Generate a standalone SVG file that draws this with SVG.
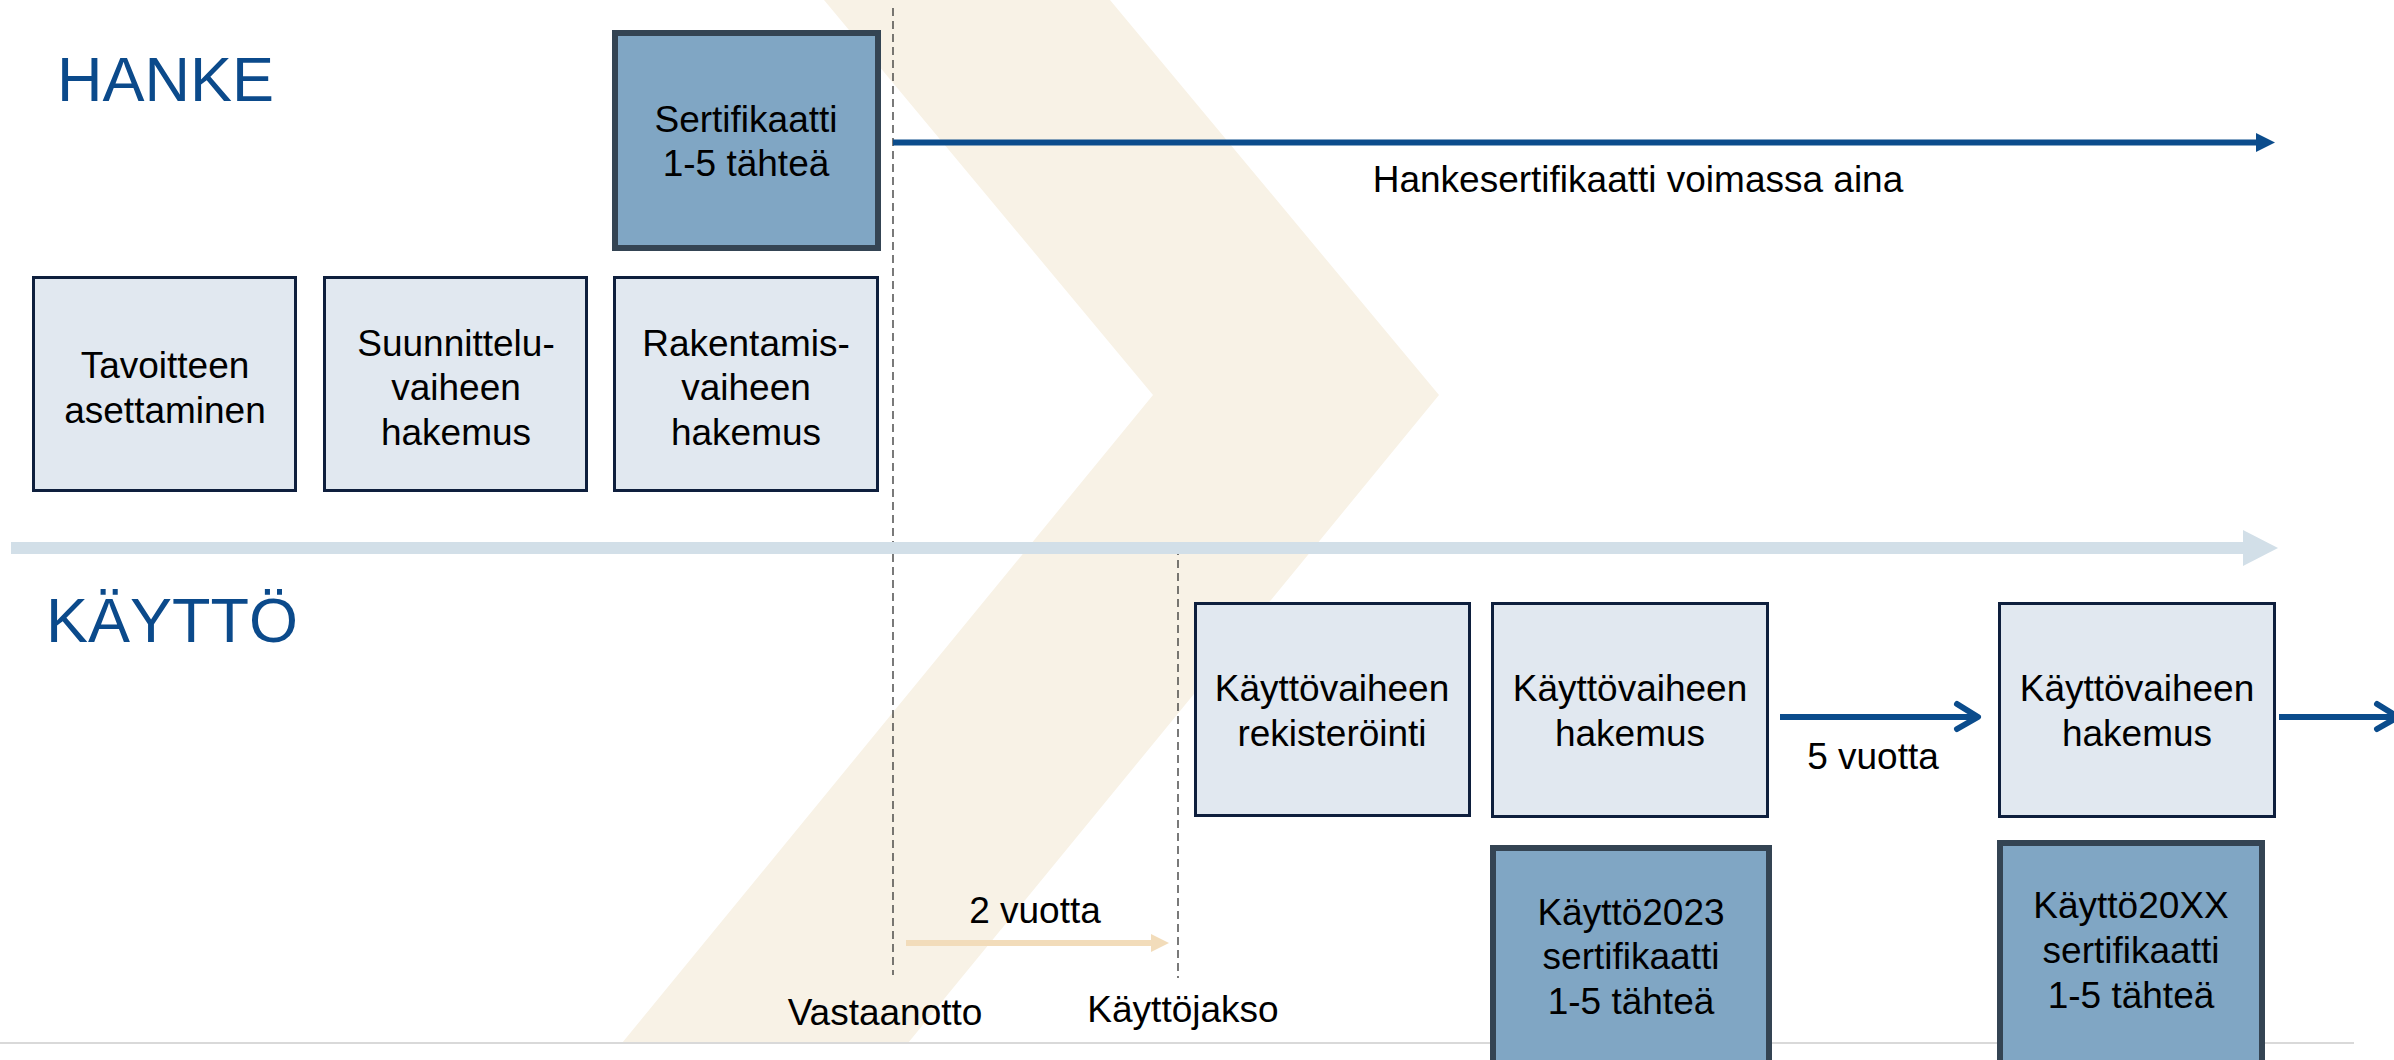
<svg xmlns="http://www.w3.org/2000/svg" width="2394" height="1060" viewBox="0 0 2394 1060">
<style>
text{font-family:"Liberation Sans",Arial,sans-serif;font-size:37px;fill:#000;text-anchor:middle}
.title{font-size:63px;fill:#0B4A8B;text-anchor:start}
.box{fill:#E1E8F0;stroke:#0E1F3D;stroke-width:3}
.cert{fill:#80A6C4;stroke:#344453;stroke-width:6}
.dash{stroke:#333;stroke-width:1.3;stroke-dasharray:8 5;fill:none}
.navy{stroke:#0B4C8C;stroke-width:6;fill:none}
</style>
<rect width="2394" height="1060" fill="#fff"/>
<g id="chevron">
<polygon points="824,0 1110,0 1439,395 908,1043 622,1043 1153,395" fill="#F8F2E6"/>
</g>
<line x1="0" y1="1043" x2="2354" y2="1043" stroke="#D9D9D9" stroke-width="2"/>
<text class="title" x="57" y="101">HANKE</text>
<text class="title" x="46" y="642">KÄYTTÖ</text>
<g id="connectors">
<line class="dash" x1="893" y1="8" x2="893" y2="975"/>
<line class="dash" x1="1178" y1="547" x2="1178" y2="978"/>
<rect x="11" y="542" width="2234" height="12" fill="#D2DFE8"/>
<polygon points="2243,530 2278,548 2243,566" fill="#D2DFE8"/>
<line class="navy" x1="893" y1="142.5" x2="2259" y2="142.5"/>
<polygon points="2256,133 2275,142.5 2256,152" fill="#0B4C8C"/>
<line x1="906" y1="943" x2="1153" y2="943" stroke="#F2DCBA" stroke-width="6"/>
<polygon points="1151,934 1169,943 1151,952" fill="#F2DCBA"/>
<line class="navy" x1="1780" y1="717" x2="1976" y2="717"/>
<polyline class="navy" points="1957,704 1978,717 1957,729" stroke-linecap="round" stroke-linejoin="round"/>
<line class="navy" x1="2279" y1="717" x2="2394" y2="717"/>
<polyline class="navy" points="2377,704 2398,717 2377,729" stroke-linecap="round" stroke-linejoin="round"/>
<text x="1638" y="192">Hankesertifikaatti voimassa aina</text>
<text x="1873" y="769">5 vuotta</text>
<text x="1035" y="923">2 vuotta</text>
<text x="885" y="1025">Vastaanotto</text>
<text x="1183" y="1022">Käyttöjakso</text>
</g>
<g id="hanke-cert">
<rect class="cert" x="615" y="33" width="263" height="215"/>
<text x="746" y="132">Sertifikaatti</text>
<text x="746" y="176">1-5 tähteä</text>
</g>
<g id="tavoitteen">
<rect class="box" x="33.5" y="277.5" width="262" height="213"/>
<text x="165" y="378">Tavoitteen</text>
<text x="165" y="423">asettaminen</text>
</g>
<g id="suunnittelu">
<rect class="box" x="324.5" y="277.5" width="262" height="213"/>
<text x="456" y="356">Suunnittelu-</text>
<text x="456" y="400">vaiheen</text>
<text x="456" y="445">hakemus</text>
</g>
<g id="rakentamis">
<rect class="box" x="614.5" y="277.5" width="263" height="213"/>
<text x="746" y="356">Rakentamis-</text>
<text x="746" y="400">vaiheen</text>
<text x="746" y="445">hakemus</text>
</g>
<g id="rekisterointi">
<rect class="box" x="1195.5" y="603.5" width="274" height="212"/>
<text x="1332" y="701">Käyttövaiheen</text>
<text x="1332" y="746">rekisteröinti</text>
</g>
<g id="hakemus1">
<rect class="box" x="1492.5" y="603.5" width="275" height="213"/>
<text x="1630" y="701">Käyttövaiheen</text>
<text x="1630" y="746">hakemus</text>
</g>
<g id="hakemus2">
<rect class="box" x="1999.5" y="603.5" width="275" height="213"/>
<text x="2137" y="701">Käyttövaiheen</text>
<text x="2137" y="746">hakemus</text>
</g>
<g id="cert2023">
<rect class="cert" x="1493" y="848" width="276" height="240"/>
<text x="1631" y="925">Käyttö2023</text>
<text x="1631" y="969">sertifikaatti</text>
<text x="1631" y="1014">1-5 tähteä</text>
</g>
<g id="cert20xx">
<rect class="cert" x="2000" y="843" width="262" height="245"/>
<text x="2131" y="918">Käyttö20XX</text>
<text x="2131" y="963">sertifikaatti</text>
<text x="2131" y="1008">1-5 tähteä</text>
</g>
</svg>
